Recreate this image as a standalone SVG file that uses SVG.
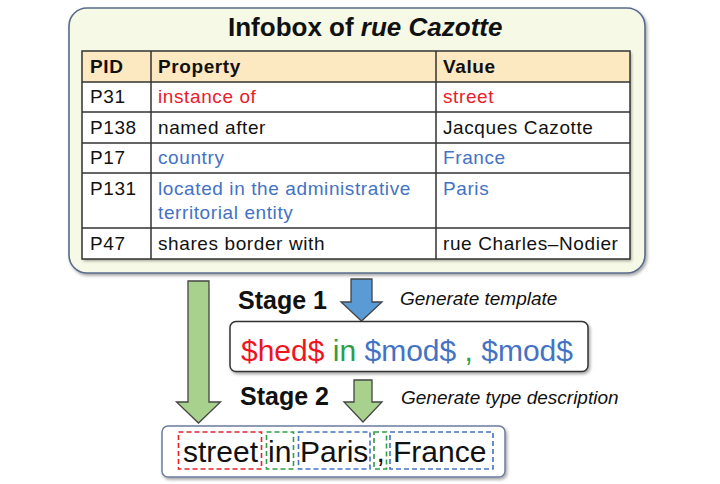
<svg xmlns="http://www.w3.org/2000/svg" width="720" height="484" viewBox="0 0 720 484">
<defs>
<filter id="sh" x="-10%" y="-10%" width="120%" height="130%">
<feDropShadow dx="1.5" dy="2" stdDeviation="1.5" flood-color="#000" flood-opacity="0.35"/>
</filter>
</defs>
<style>
text{font-family:"Liberation Sans",Arial,sans-serif;}
.cell{font-size:19px;letter-spacing:0.6px;fill:#111;}
.hd{font-weight:bold;}
.red{fill:#e8202a;}
.blue{fill:#4472c4;}
.grn{fill:#2f9e44;}
.stage{font-size:25px;font-weight:bold;fill:#111;}
.note{font-size:19px;font-style:italic;fill:#111;}
.tl{stroke:#333;stroke-width:1.5;fill:none;}
.arrowG{fill:#a9d18e;stroke:#444;stroke-width:1.3;}
.arrowB{fill:#5b9bd5;stroke:#444;stroke-width:1.3;}
.tok{font-size:30px;fill:#111;}
.dash{fill:none;stroke-width:1.6;stroke-dasharray:5,3;}
</style>
<g id="infobox">
<rect x="69" y="8" width="576" height="265" rx="18" fill="#f5f9e6" stroke="#5a6b8c" stroke-width="1.6" filter="url(#sh)"/>
<text x="228" y="36" font-size="26" font-weight="bold" fill="#111">Infobox of <tspan font-style="italic">rue Cazotte</tspan></text>
<g id="table">
<rect x="82" y="51" width="548" height="208" fill="#fff" filter="url(#sh)"/>
<rect x="82" y="51" width="548" height="31" fill="#fce9c2"/>
<rect x="82" y="51" width="548" height="208" class="tl"/>
<path class="tl" d="M82,82H630M82,112H630M82,143H630M82,173H630M82,228H630M151,51V259M436,51V259"/>
<text class="cell hd" x="90" y="73">PID</text>
<text class="cell hd" x="158" y="73">Property</text>
<text class="cell hd" x="443" y="73">Value</text>
<text class="cell" x="90" y="103">P31</text>
<text class="cell red" x="158" y="103">instance of</text>
<text class="cell red" x="443" y="103">street</text>
<text class="cell" x="90" y="134">P138</text>
<text class="cell" x="158" y="134">named after</text>
<text class="cell" x="443" y="134">Jacques Cazotte</text>
<text class="cell" x="90" y="164">P17</text>
<text class="cell blue" x="158" y="164">country</text>
<text class="cell blue" x="443" y="164">France</text>
<text class="cell" x="90" y="195">P131</text>
<text class="cell blue" x="158" y="195">located in the administrative</text>
<text class="cell blue" x="158" y="219">territorial entity</text>
<text class="cell blue" x="443" y="195">Paris</text>
<text class="cell" x="90" y="250">P47</text>
<text class="cell" x="158" y="250">shares border with</text>
<text class="cell" x="443" y="250">rue Charles–Nodier</text>
</g>
</g>
<g id="connectors">
<path class="arrowG" d="M188,281H209V402H220.5L198.5,423L176.5,402H188Z"/>
<path class="arrowB" d="M351,279H372V302H382L361.5,321L341,302H351Z"/>
<path class="arrowG" d="M354,380H372V402H382L363,422L344,402H354Z"/>
</g>
<g id="stage1">
<text class="stage" x="238" y="309">Stage 1</text>
<text class="note" x="400" y="305">Generate template</text>
</g>
<g id="template">
<rect x="230" y="321.5" width="358" height="50" rx="6" fill="#fff" stroke="#333" stroke-width="1.5" filter="url(#sh)"/>
<text x="241" y="361" font-size="30"><tspan fill="#f0141e">$hed$</tspan> <tspan fill="#2f9e44">in</tspan> <tspan fill="#4472c4">$mod$</tspan> <tspan fill="#2f9e44">,</tspan> <tspan fill="#4472c4">$mod$</tspan></text>
</g>
<g id="stage2">
<text class="stage" x="240" y="405">Stage 2</text>
<text class="note" x="401" y="404">Generate type description</text>
</g>
<g id="output">
<rect x="162" y="426" width="343" height="51" rx="6" fill="#fff" stroke="#6c7ea0" stroke-width="1.5" filter="url(#sh)"/>
<rect class="dash" x="178.5" y="432" width="83" height="37" stroke="#e8202a"/>
<rect class="dash" x="266.5" y="432" width="27" height="37" stroke="#2f9e44"/>
<rect class="dash" x="298.5" y="432" width="71.5" height="37" stroke="#4472c4"/>
<rect class="dash" x="374" y="432" width="12.5" height="37" stroke="#2f9e44"/>
<rect class="dash" x="390" y="432" width="103" height="37" stroke="#4472c4"/>
<text class="tok" x="183" y="462">street</text>
<text class="tok" x="268" y="462">in</text>
<text class="tok" x="300" y="462">Paris</text>
<text class="tok" x="376.5" y="462">,</text>
<text class="tok" x="393" y="462">France</text>
</g>
</svg>
